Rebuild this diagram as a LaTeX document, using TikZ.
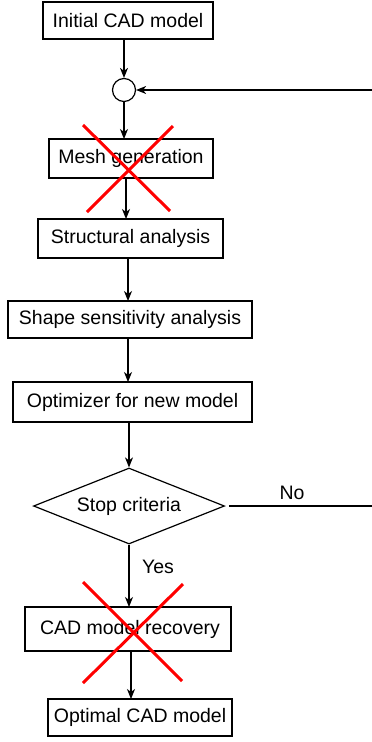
\documentclass[tikz,border=0pt]{standalone}
\usepackage{fontspec}
\setmainfont{Liberation Sans}
\usetikzlibrary{shapes.geometric,arrows.meta}
\begin{document}
\begin{tikzpicture}[x=1pt,y=-1pt,
  every node/.style={font=\fontsize{19.5}{22}\selectfont, inner sep=0pt},
  procbox/.style={draw, line width=1.2pt, minimum height=#1, outer sep=0pt},
  arr/.style={line width=1.3pt, -{Stealth[length=10pt,width=8pt,inset=3pt]}},
  plain/.style={line width=1.2pt},
  cross/.style={draw=red, line width=3pt}]
\useasboundingbox (0,0) rectangle (372,742);
\node[procbox=37pt, minimum width=170pt] (init) at (128,20.5) {Initial CAD model};
\node[draw, circle, line width=1.2pt, minimum size=23pt] (circ) at (124,90) {};
\node[procbox=39pt, minimum width=164pt] (mesh) at (131,158.5) {Mesh generation};
\node[procbox=39pt, minimum width=185pt] (struct) at (130.5,238.5) {Structural analysis};
\node[procbox=37pt, minimum width=244pt] (shape) at (130,319.5) {Shape sensitivity analysis};
\node[procbox=40pt, minimum width=239pt] (opt) at (132.5,402) {Optimizer for new model};
\node[draw, diamond, aspect=2.51, line width=1.2pt, minimum width=191pt, minimum height=76pt] (dia) at (129,506) {Stop criteria};
\node[procbox=44pt, minimum width=206pt] (rec) at (128,629) {\hspace{4pt}CAD model recovery};
\node[procbox=37pt, minimum width=184pt] (optimal) at (140,717.5) {Optimal CAD model};
\coordinate (fbend) at (372,90);
\coordinate (noend) at (372,506);
\draw[arr] ([xshift=-4pt]init.south) -- (circ.north);
\draw[arr] (circ.south) -- (circ.south |- mesh.north);
\draw[arr] ([xshift=-5pt]mesh.south) -- ([xshift=-5pt]mesh.south |- struct.north);
\draw[arr] ([xshift=-2.5pt]struct.south) -- ([xshift=-2.5pt]struct.south |- shape.north);
\draw[arr] ([xshift=-2pt]shape.south) -- ([xshift=-2pt]shape.south |- opt.north);
\draw[arr] ([xshift=-3.5pt]opt.south) -- (dia.north);
\draw[arr] (fbend) -- (circ.east);
\draw[plain] ([xshift=4pt]dia.east) -- (noend);
\node at (292,493) {No};
\draw[arr] (dia.south) -- ([xshift=1pt]rec.north);
\node at (158,567) {Yes};
\draw[arr] ([xshift=3pt]rec.south) -- ([xshift=3pt]rec.south |- optimal.north);
\draw[cross] (83,125) -- (170,211);
\draw[cross] (173,126) -- (87,212);
\draw[cross] (83,582) -- (182,681);
\draw[cross] (183,584) -- (83,683);
\end{tikzpicture}
\end{document}
